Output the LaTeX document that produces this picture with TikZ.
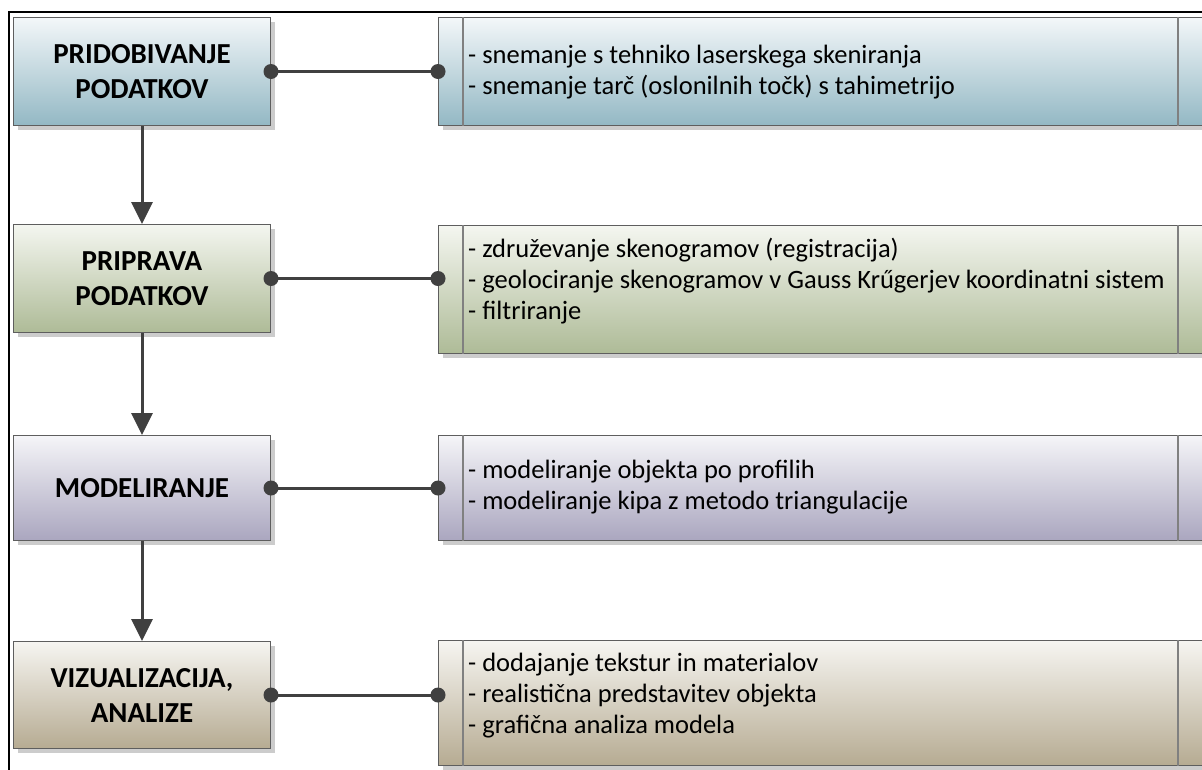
\documentclass[tikz,border=0pt]{standalone}
\usepackage{fontspec}
\setmainfont{Carlito}
\usetikzlibrary{shadows,arrows.meta}

\definecolor{edgegray}{HTML}{5E5E5E}
\definecolor{wire}{HTML}{404040}
\definecolor{splitgray}{HTML}{808080}
\definecolor{blueTop}{HTML}{F3F7F9}\definecolor{blueBot}{HTML}{93B8C4}
\definecolor{greenTop}{HTML}{F4F6F0}\definecolor{greenBot}{HTML}{AEBB97}
\definecolor{violetTop}{HTML}{F5F5F8}\definecolor{violetBot}{HTML}{AAA6BF}
\definecolor{tanTop}{HTML}{F6F5F1}\definecolor{tanBot}{HTML}{B6AB92}

\tikzset{
  boxshadow/.style={drop shadow={shadow xshift=4pt, shadow yshift=-4pt, fill=black!20, opacity=1}},
  stagebox/.style={draw=edgegray, line width=1pt, rectangle, inner sep=0pt,
    minimum width=257pt, anchor=north west, align=center, boxshadow,
    font=\bfseries\fontsize{29}{35}\selectfont},
  detailbox/.style={draw=edgegray, line width=1pt, rectangle, inner sep=0pt,
    minimum width=780pt, anchor=north west, boxshadow},
  itemtext/.style={anchor=west, align=left, inner sep=0pt,
    font=\fontsize{26.5}{31}\selectfont},
  split/.style={draw=splitgray, line width=1.3pt},
  flow/.style={draw=wire, line width=3pt, -{Triangle[width=21pt,length=22pt]}},
  link/.style={draw=wire, line width=3pt},
  dot/.style={fill=wire},
  paint/.style n args={2}{top color=#1, bottom color=#2}
}

\begin{document}
\begin{tikzpicture}[x=1pt,y=-1pt]
\useasboundingbox (0,0) rectangle (1202,769);
\clip (0,0) rectangle (1202,769);

% outer frame
\draw[line width=2pt] (9,12) rectangle (1240,800);

% stages on the left
\node[stagebox, minimum height=108pt, paint={blueTop}{blueBot}]   (s1) at (13,17)  {PRIDOBIVANJE\\PODATKOV};
\node[stagebox, minimum height=108pt, paint={greenTop}{greenBot}] (s2) at (13,224) {PRIPRAVA\\PODATKOV};
\node[stagebox, minimum height=105pt, paint={violetTop}{violetBot}] (s3) at (13,435) {MODELIRANJE};
\node[stagebox, minimum height=107pt, paint={tanTop}{tanBot}]     (s4) at (13,641) {VIZUALIZACIJA,\\ANALIZE};

% detail panels on the right
\node[detailbox, minimum height=108pt, paint={blueTop}{blueBot}]   (d1) at (438,17)  {};
\node[detailbox, minimum height=128pt, paint={greenTop}{greenBot}] (d2) at (438,225) {};
\node[detailbox, minimum height=105pt, paint={violetTop}{violetBot}] (d3) at (438,435) {};
\node[detailbox, minimum height=125pt, paint={tanTop}{tanBot}]     (d4) at (438,640) {};

\foreach \d in {d1,d2,d3,d4}{
  \draw[split] ([xshift=25pt]\d.north west) -- ([xshift=25pt]\d.south west);
  \draw[split] ([xshift=740pt]\d.north west) -- ([xshift=740pt]\d.south west);
}

% panel texts
\node[itemtext] (t1) at (468,72) {- snemanje s tehniko laserskega skeniranja\\- snemanje tarč (oslonilnih točk) s tahimetrijo};
\node[itemtext] (t2) at (468,281) {- združevanje skenogramov (registracija)\\- geolociranje skenogramov v Gauss Krűgerjev koordinatni sistem\\- filtriranje};
\node[itemtext] (t3) at (468,487) {- modeliranje objekta po profilih\\- modeliranje kipa z metodo triangulacije};
\node[itemtext] (t4) at (468,696) {- dodajanje tekstur in materialov\\- realistična predstavitev objekta\\- grafična analiza modela};

% flow between stages
\draw[flow] (s1.south) -- (s2.north);
\draw[flow] (s2.south) -- (s3.north);
\draw[flow] (s3.south) -- (s4.north);

% links from stages to panels
\foreach \i in {1,2,3,4}{
  \draw[link] (s\i.east) -- (s\i.east -| d\i.west);
  \fill[dot] (s\i.east) circle (7.5pt);
  \fill[dot] (s\i.east -| d\i.west) circle (7.5pt);
}
\end{tikzpicture}
\end{document}
